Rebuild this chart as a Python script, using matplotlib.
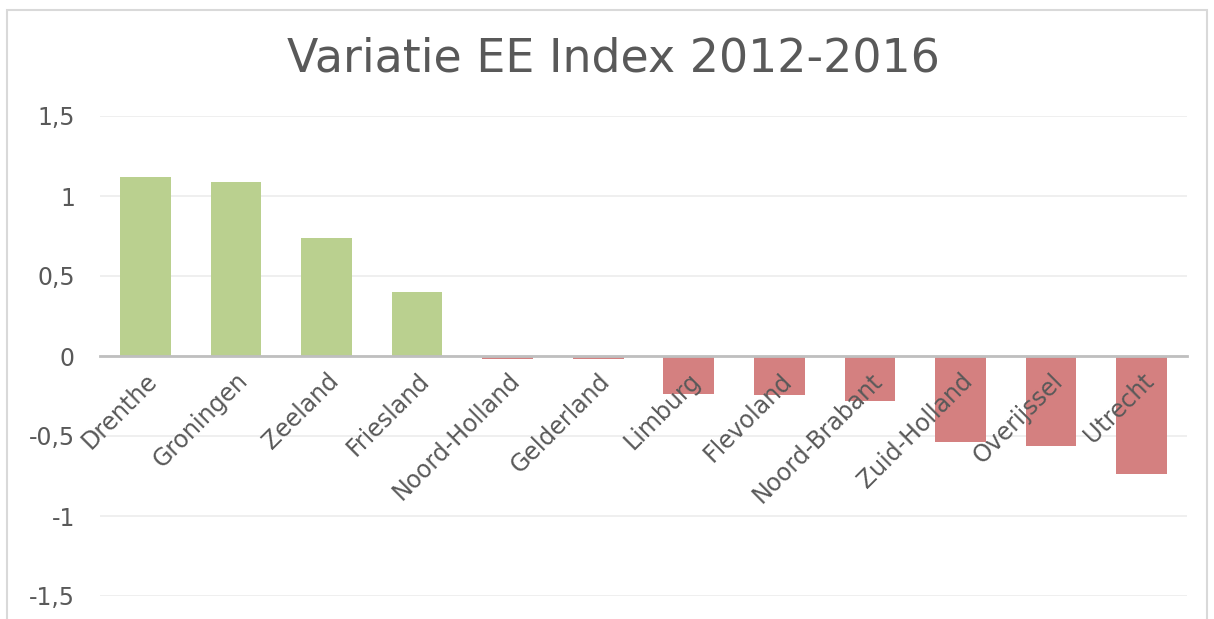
import numpy as np
import matplotlib.pyplot as plt
from matplotlib.patches import Rectangle

provinces = ['Drenthe', 'Groningen', 'Zeeland', 'Friesland', 'Noord-Holland',
             'Gelderland', 'Limburg', 'Flevoland', 'Noord-Brabant',
             'Zuid-Holland', 'Overijssel', 'Utrecht']
variation = [1.12, 1.09, 0.735, 0.40, -0.02, -0.02, -0.235, -0.245, -0.28,
             -0.535, -0.565, -0.74]
yticks = [-1.5, -1, -0.5, 0, 0.5, 1, 1.5]
ytick_labels = ['-1,5', '-1', '-0,5', '0', '0,5', '1', '1,5']

text_col = '#595959'
green = '#bad08f'
red = '#d48080'

fig = plt.figure(figsize=(12.14, 6.19), dpi=100)
fig.patches.append(Rectangle((7 / 1214, -0.05), 1200 / 1214, 1 - 10 / 619 + 0.05,
                             transform=fig.transFigure, fill=False,
                             edgecolor='#d9d9d9', linewidth=1.5))

ax = fig.add_axes([100 / 1214, 1 - 596 / 619, 1087 / 1214, 480 / 619])
x = np.arange(len(provinces))
colors = [green if v >= 0 else red for v in variation]
ax.bar(x, variation, width=0.56, color=colors, zorder=2)

ax.set_xlim(-0.5, len(provinces) - 0.5)
ax.set_ylim(-1.5, 1.5)
ax.set_yticks(yticks)
ax.set_yticklabels(ytick_labels)
ax.yaxis.grid(True, color='#ececec', linewidth=1.2)
ax.set_axisbelow(True)
ax.xaxis.set_zorder(5)

for s in ['top', 'right', 'left']:
    ax.spines[s].set_visible(False)
ax.spines['bottom'].set_position(('data', 0))
ax.spines['bottom'].set_color('#bfbfbf')
ax.spines['bottom'].set_linewidth(2)
ax.spines['bottom'].set_zorder(3)

ax.set_xticks(x)
ax.set_xticklabels(provinces, rotation=45, ha='right', rotation_mode='anchor',
                   fontsize=17, color=text_col)
ax.tick_params(axis='x', length=0, pad=9)
ax.tick_params(axis='y', length=0, pad=18, labelsize=17, labelcolor=text_col)

fig.text(0.505, 0.905, 'Variatie EE Index 2012-2016', ha='center', va='center',
         fontsize=33, color=text_col)

fig.savefig('out.png', dpi=100)
